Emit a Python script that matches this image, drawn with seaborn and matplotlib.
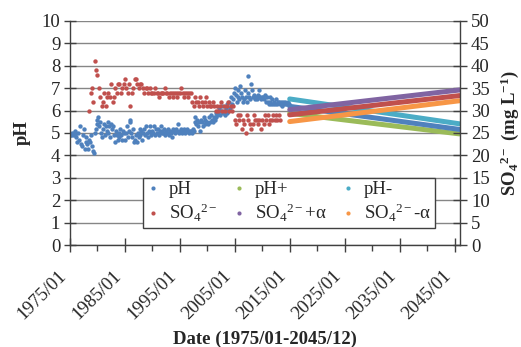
import numpy as np
import pandas as pd
import seaborn as sns
import matplotlib.dates as mdates
from matplotlib import pyplot as plt
from matplotlib.lines import Line2D

# observed pH, one reading every 2 months from 1975/01 to 2014/11
ph_values = [
    4.9, 4.9, 5.0, 4.9, 5.0, 4.9,
    5.1, 4.8, 4.6, 5.0, 4.7, 5.3,
    4.5, 4.4, 4.9, 5.2, 4.3, 4.6,
    4.8, 4.5, 4.3, 4.7, 4.6, 4.9,
    4.4, 4.2, 4.1, 5.0, 5.2, 5.4,
    5.6, 5.7, 5.3, 5.5, 5.0, 4.8,
    5.2, 5.4, 4.9, 5.3, 5.1, 5.5,
    5.0, 5.3, 4.8, 5.4, 5.2, 5.3,
    4.9, 4.6, 5.1, 4.9, 4.7, 5.0,
    4.8, 5.2, 4.9, 4.7, 5.1, 5.0,
    4.7, 5.0, 5.3, 4.8, 5.1, 5.6,
    5.5, 5.0, 4.8, 5.2, 4.6, 4.7,
    4.9, 4.6, 5.0, 4.8, 5.2, 4.9,
    5.1, 4.7, 5.0, 5.2, 4.9, 5.3,
    5.0, 4.8, 5.1, 5.3, 4.9, 5.0,
    5.1, 5.0, 5.3, 4.9, 5.2, 5.0,
    5.2, 4.9, 5.1, 5.3, 5.0, 5.1,
    5.0, 5.2, 4.9, 5.1, 5.0, 5.2,
    4.9, 5.1, 5.0, 4.8, 5.1, 5.2,
    5.1, 5.0, 5.2, 5.1, 5.4, 5.0,
    5.1, 5.2, 5.0, 5.1, 5.2, 5.1,
    5.0, 5.1, 5.2, 5.1, 5.0, 5.1,
    5.1, 5.0, 5.2, 5.1, 5.5, 5.7,
    5.4, 5.6, 5.3, 5.5, 5.1, 5.6,
    5.5, 5.3, 5.7, 5.4, 5.6, 5.5,
    5.5, 5.4, 5.7, 5.5, 5.8, 5.6,
    5.5, 5.7, 5.6, 5.9, 5.7, 5.8,
    5.9, 6.1, 5.8, 6.0, 6.2, 5.9,
    6.0, 5.8, 6.1, 6.3, 5.9, 6.0,
    6.4, 6.1, 6.6, 6.3, 6.5, 6.8,
    7.0, 6.7, 6.4, 6.6, 6.9, 6.5,
    7.1, 6.8, 6.6, 6.4, 6.5, 6.9,
    6.6, 6.4, 6.8, 7.55, 6.6, 6.5,
    7.2, 6.9, 6.6, 6.7, 6.5, 6.6,
    6.5, 6.7, 6.6, 6.9, 6.6, 6.5,
    6.6, 6.6, 6.5, 6.7, 6.4, 6.6,
    6.4, 6.3, 6.6, 6.4, 6.3, 6.5,
    6.3, 6.4, 6.3, 6.5, 6.3, 6.4,
    6.4, 6.3, 6.4, 6.3, 6.2, 6.4,
    6.3, 6.4, 6.3, 6.3, 6.4, 6.3,
]

# observed SO4 (mg/L), quarterly from 1978/07 to 2013/04
so4_values = [
    30, 34,
    35, 32, 41, 39,
    38, 35, 33, 31,
    32, 34, 31, 33,
    34, 33, 36, 32,
    33, 35, 34, 36,
    36, 34, 35, 36,
    37, 35, 34, 36,
    31, 34, 35, 37,
    37, 36, 35, 36,
    36, 35, 34, 35,
    35, 34, 35, 34,
    34, 34, 35, 34,
    34, 33, 34, 34,
    34, 35, 34, 34,
    33, 34, 34, 33,
    34, 34, 33, 34,
    34, 35, 34, 33,
    34, 34, 33, 34,
    34, 32, 31, 33,
    32, 32, 31, 33,
    32, 31, 32, 33,
    31, 32, 31, 31,
    32, 31, 30, 31,
    30, 31, 32, 30,
    31, 30, 31, 32,
    30, 31, 30, 31,
    28, 27, 29, 28,
    29, 26, 28, 27,
    25, 29, 28, 27,
    26, 27, 29, 28,
    28, 27, 28, 26,
    28, 27, 29, 28,
    29, 27, 28, 28,
    29, 28, 29, 28,
    29, 28,
]

# projections 2015/01 -> 2045/12 (start, end)
proj_dates = ['2015-01-01', '2045-12-01']
ph_mid = [6.19, 5.16]
ph_plus = [5.88, 4.96]
ph_minus = [6.52, 5.41]
so4_mid = [29.05, 33.35]
so4_plus = [30.2, 34.6]
so4_minus = [27.55, 32.2]

tick_years = ['1975', '1985', '1995', '2005', '2015', '2025', '2035', '2045']
tick_labels = [y + '/01' for y in tick_years]

BLUE, RED, GREEN = '#4F81BD', '#C0504D', '#9BBB59'
PURPLE, TEAL, ORANGE = '#8064A2', '#4BACC6', '#F79646'


def main():
    sns.set_style('white')
    plt.rcParams['font.family'] = ['Liberation Serif', 'DejaVu Serif']
    plt.rcParams['mathtext.fontset'] = 'custom'
    plt.rcParams['mathtext.rm'] = 'Liberation Serif'
    plt.rcParams['mathtext.it'] = 'Liberation Serif:italic'
    plt.rcParams['mathtext.bf'] = 'Liberation Serif:bold'

    ph_dates = pd.date_range('1975-01-01', periods=len(ph_values), freq='2MS')
    so4_dates = pd.date_range('1978-07-01', periods=len(so4_values), freq='QS-JAN')
    pdates = pd.to_datetime(proj_dates)

    fig = plt.figure(figsize=(5.21, 3.47), dpi=100)
    ax = fig.add_axes([70 / 521, 1 - 245 / 347, 390 / 521, 224 / 347])
    ax2 = ax.twinx()

    sns.scatterplot(x=ph_dates, y=ph_values, ax=ax, color=BLUE, s=10, linewidth=0)
    sns.lineplot(x=pdates, y=ph_plus, ax=ax, color=GREEN, lw=3.6)
    sns.lineplot(x=pdates, y=ph_mid, ax=ax, color=BLUE, lw=3.6)
    sns.lineplot(x=pdates, y=ph_minus, ax=ax, color=TEAL, lw=3.6)

    sns.scatterplot(x=so4_dates, y=so4_values, ax=ax2, color=RED, s=10, linewidth=0)
    sns.lineplot(x=pdates, y=so4_minus, ax=ax2, color=ORANGE, lw=3.6)
    sns.lineplot(x=pdates, y=so4_mid, ax=ax2, color=RED, lw=3.6)
    sns.lineplot(x=pdates, y=so4_plus, ax=ax2, color=PURPLE, lw=3.6)

    ax.set_xlim(pd.Timestamp('1975-01-01'), pd.Timestamp('2046-01-01'))
    ax.set_ylim(0, 10)
    ax2.set_ylim(0, 50)
    ax.set_yticks(range(0, 11))
    ax2.set_yticks(range(0, 51, 5))
    ax.set_xticks(pd.to_datetime([y + '-01-01' for y in tick_years]))
    ax.set_xticklabels(tick_labels, rotation=45, ha='right')
    ax.xaxis.set_minor_locator(mdates.YearLocator(10))

    ax.yaxis.grid(True, color='#868686', lw=1)
    ax.xaxis.grid(False)
    ax2.grid(False)

    axis_col = '#404040'
    for s in ['top', 'right']:
        ax.spines[s].set_visible(False)
    for s in ['top', 'left', 'bottom']:
        ax2.spines[s].set_visible(False)
    for sp in [ax.spines['left'], ax.spines['bottom'], ax2.spines['right']]:
        sp.set_color(axis_col)
        sp.set_linewidth(1)

    ax.tick_params(axis='y', which='major', direction='inout', length=8, width=1,
                   color=axis_col, labelsize=13.5, pad=3, left=True)
    ax2.tick_params(axis='y', which='major', direction='inout', length=10, width=1,
                    color=axis_col, labelsize=13.5, pad=3, right=True)
    ax.tick_params(axis='x', which='major', direction='inout', length=10, width=1,
                   color=axis_col, labelsize=13.5, pad=11, bottom=True)
    ax.tick_params(axis='x', which='minor', direction='out', length=4, width=1,
                   color=axis_col, bottom=True)

    ax.set_ylabel('pH', fontsize=13.5, fontweight='bold', labelpad=8)
    ax2.set_ylabel(r'$\mathbf{SO_4}$$\mathbf{^{2-}}$ (mg L$^{\mathbf{-1}}$)', fontsize=13.5,
                   fontweight='bold', labelpad=6)
    ax.set_xlabel('Date (1975/01-2045/12)', fontsize=13.5, fontweight='bold', labelpad=6)

    so4_lab = r'SO$_4$$^{2-}$'
    items = [
        ('pH', BLUE), (so4_lab, RED),
        ('pH+', GREEN), (so4_lab + '+α', PURPLE),
        ('pH-', TEAL), (so4_lab + '-α', ORANGE),
    ]
    handles = [Line2D([], [], ls='', marker='o', ms=3, color=c, markeredgewidth=0)
               for _, c in items]
    leg = ax2.legend(handles, [t for t, _ in items], ncol=3, fontsize=13.5,
                     loc='lower left', bbox_to_anchor=(0.187, 0.076, 0.749, 0.241),
                     mode='expand', frameon=True, fancybox=False, framealpha=1,
                     edgecolor='#404040', borderpad=0.2, labelspacing=0.2,
                     handlelength=0.7, handletextpad=0.5, columnspacing=0.5,
                     borderaxespad=0)
    leg.get_frame().set_linewidth(1)

    fig.savefig('out.png', dpi=100)


if __name__ == '__main__':
    main()
